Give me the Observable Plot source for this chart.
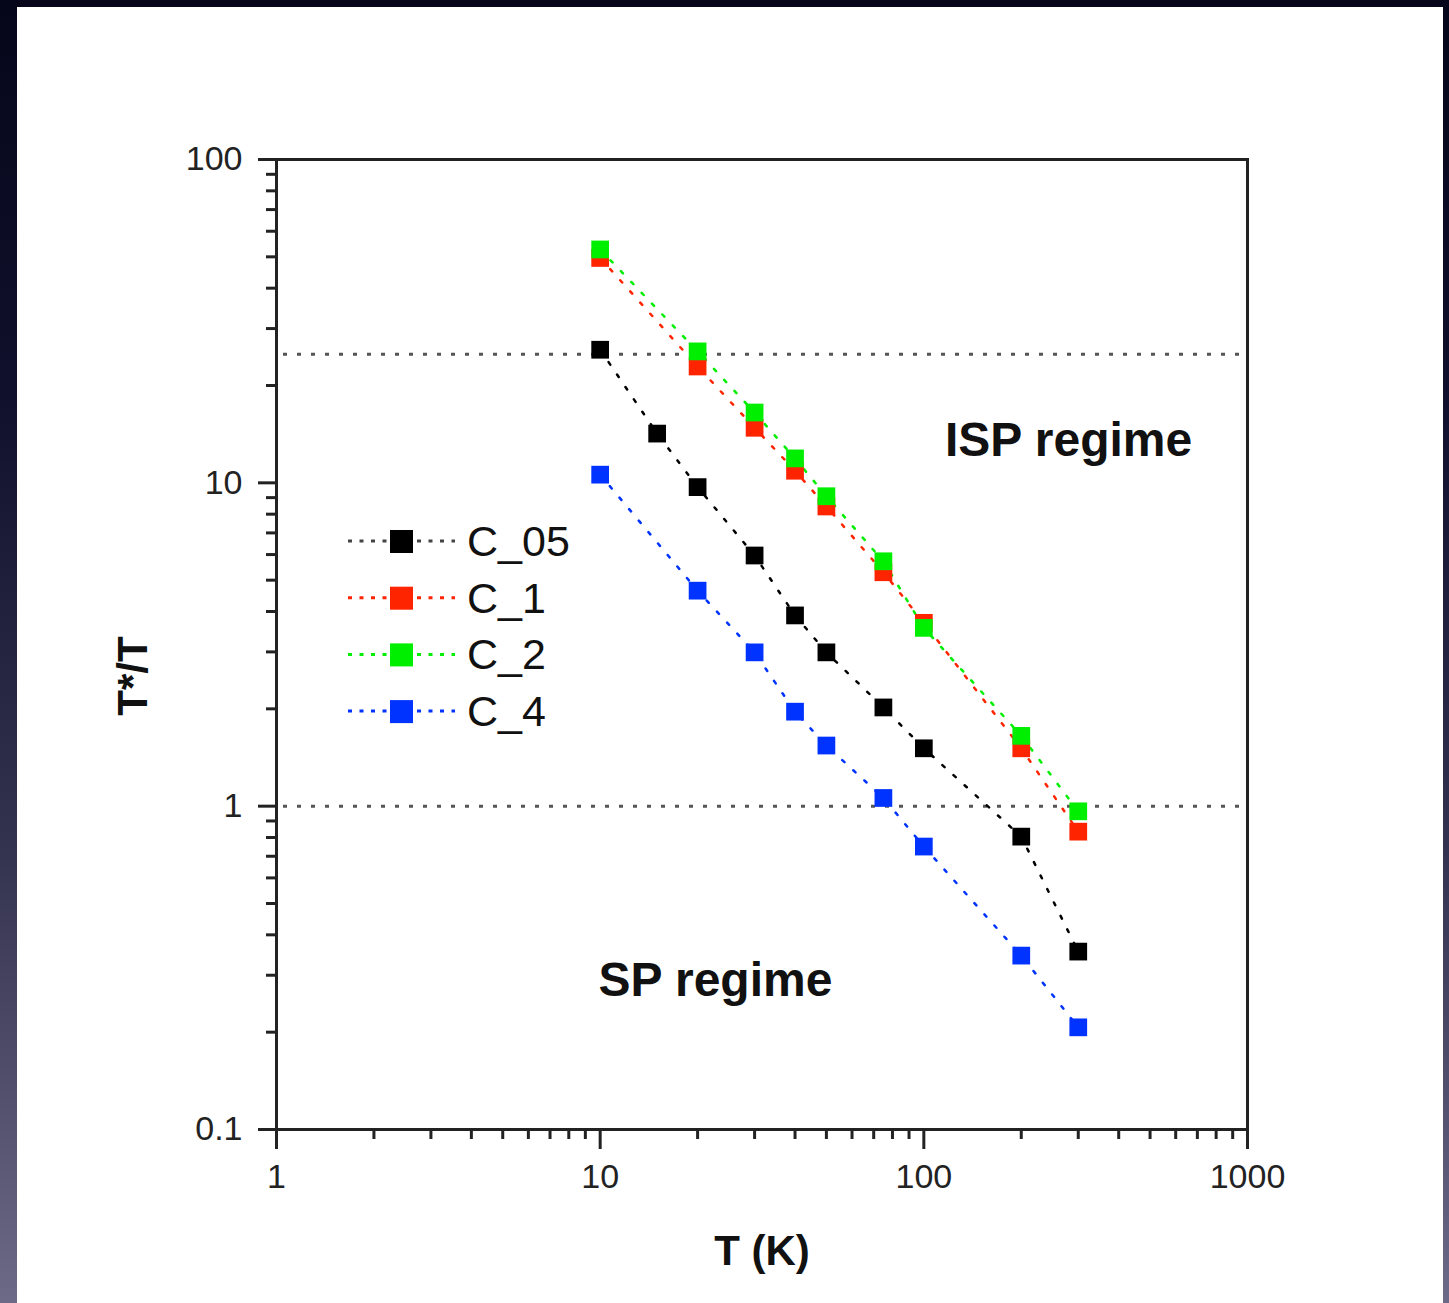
<!DOCTYPE html>
<html><head><meta charset="utf-8">
<script src="https://cdn.jsdelivr.net/npm/d3@7"></script>
<script src="https://cdn.jsdelivr.net/npm/@observablehq/plot@0.6"></script>
<style>
html,body{margin:0;padding:0;}
body{width:1449px;height:1303px;overflow:hidden;position:relative;
  background:linear-gradient(to bottom,#06061a 0%,#10102c 30%,#33324f 65%,#6c6a86 100%);
  font-family:"Liberation Sans",Arial,sans-serif;}
#panel{position:absolute;left:17px;top:7px;width:1426px;height:1296px;background:#fff;}
#chart{position:absolute;left:0;top:0;}
#legend{position:absolute;left:340px;top:505px;}
.axlabel{position:absolute;font-weight:bold;font-size:42px;color:#111;white-space:nowrap;line-height:1;}
</style></head>
<body>
<div id="panel"></div>
<div id="chart"></div>
<div id="legend"></div>
<div class="axlabel" id="ylab" style="left:133px;top:676px;transform:translate(-50%,-50%) rotate(-90deg);">T*/T</div>
<div class="axlabel" id="xlab" style="left:762px;top:1230px;transform:translate(-50%,0);">T (K)</div>
<script>
// ---- data ----
const seriesNames = ["C_05", "C_1", "C_2", "C_4"];
const seriesColors = ["#000000", "#ff2400", "#00ee00", "#0033ff"];
const T_C05 = [10, 15, 20, 30, 40, 50, 75, 100, 200, 300];
const V_C05 = [25.8, 14.2, 9.7, 5.96, 3.89, 2.99, 2.02, 1.51, 0.805, 0.355];
const T_C1 = [10, 20, 30, 40, 50, 75, 100, 200, 300];
const V_C1 = [49.6, 22.9, 14.8, 10.9, 8.45, 5.29, 3.69, 1.51, 0.834];
const T_C2 = [10, 20, 30, 40, 50, 75, 100, 200, 300];
const V_C2 = [52.7, 25.5, 16.5, 11.9, 9.09, 5.72, 3.56, 1.65, 0.964];
const T_C4 = [10, 20, 30, 40, 50, 75, 100, 200, 300];
const V_C4 = [10.6, 4.64, 2.99, 1.96, 1.54, 1.06, 0.75, 0.345, 0.207];
const refLevels = [25, 1];
const xMajor = [1, 10, 100, 1000];
const xMinor = [2, 3, 4, 5, 6, 7, 8, 9, 20, 30, 40, 50, 60, 70, 80, 90, 200, 300, 400, 500, 600, 700, 800, 900];
const yMajor = [0.1, 1, 10, 100];
const yMinor = [0.2, 0.3, 0.4, 0.5, 0.6, 0.7, 0.8, 0.9, 2, 3, 4, 5, 6, 7, 8, 9, 20, 30, 40, 50, 60, 70, 80, 90];
const annotations = [
  {T: 280, v: 13.5, label: "ISP regime"},
  {T: 22.7, v: 0.288, label: "SP regime"}
];

const seriesT = [T_C05, T_C1, T_C2, T_C4];
const seriesV = [V_C05, V_C1, V_C2, V_C4];
const rows = [];
seriesNames.forEach((name, i) => {
  seriesT[i].forEach((t, j) => rows.push({series: name, T: t, v: seriesV[i][j]}));
});

const axisStyle = {stroke: "#222", strokeWidth: 3};
const plot = Plot.plot({
  width: 1449, height: 1303,
  marginLeft: 276, marginRight: 202, marginTop: 159, marginBottom: 174,
  x: {type: "log", domain: [1, 1000], label: null},
  y: {type: "log", domain: [0.1, 100], label: null},
  color: {domain: seriesNames, range: seriesColors},
  style: {background: "transparent", fontFamily: "Liberation Sans, Arial, sans-serif", fontSize: "34px", color: "#222"},
  marks: [
    Plot.ruleY(refLevels, {stroke: "#555", strokeWidth: 3, strokeDasharray: "4,10", insetLeft: 7, insetRight: 4}),
    Plot.line(rows, {x: "T", y: "v", z: "series", stroke: "series", strokeWidth: 2.5, strokeDasharray: "3,12"}),
    Plot.dot(rows, {x: "T", y: "v", fill: "series", symbol: "square", r: 10}),
    Plot.text(annotations, {x: "T", y: "v", text: "label", fontSize: 48, fontWeight: "bold", fill: "#111"}),
    Plot.axisX({ticks: xMinor, tickSize: 10, tickFormat: () => "", ...axisStyle}),
    Plot.axisX({ticks: xMajor, tickSize: 20, tickPadding: 14, tickFormat: d => String(d), ...axisStyle, fill: "#222"}),
    Plot.axisY({ticks: yMinor, tickSize: 10, tickFormat: () => "", ...axisStyle}),
    Plot.axisY({ticks: yMajor, tickSize: 18, tickPadding: 16, tickFormat: d => String(d), ...axisStyle, fill: "#222"}),
    Plot.frame({stroke: "#222", strokeWidth: 3})
  ]
});
document.getElementById("chart").appendChild(plot);

// ---- legend ----
const lg = d3.select("#legend").append("svg").attr("width", 260).attr("height", 240);
seriesNames.forEach((name, i) => {
  const cy = 36 + i * 56.7;
  const g = lg.append("g").attr("transform", `translate(0,${cy})`);
  g.append("line").attr("x1", 8).attr("x2", 115).attr("y1", 0).attr("y2", 0)
    .attr("stroke", i === 0 ? "#444" : seriesColors[i]).attr("stroke-width", 3).attr("stroke-dasharray", "4,7.5");
  g.append("rect").attr("x", 50).attr("y", -11).attr("width", 23).attr("height", 23).attr("fill", seriesColors[i]);
  g.append("text").attr("x", 127).attr("y", 15).text(name)
    .attr("font-size", 43).attr("fill", "#111").attr("font-family", "Liberation Sans, Arial, sans-serif");
});
</script>
</body></html>
